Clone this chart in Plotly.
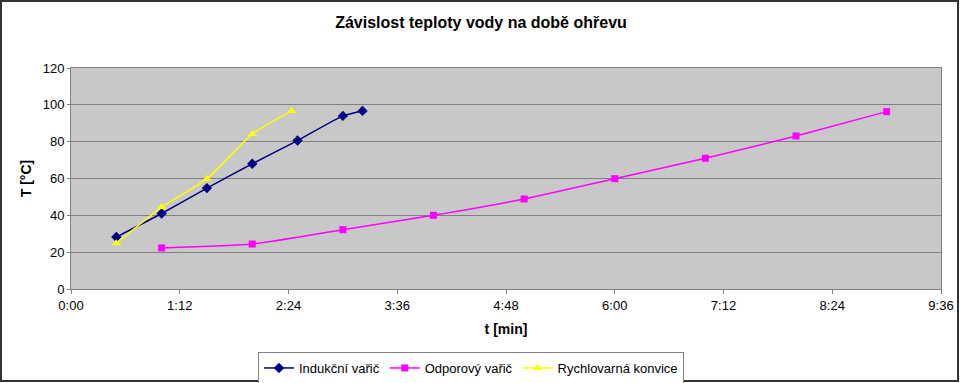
import plotly.graph_objects as go

# time in seconds
ind_t = [30, 60, 90, 120, 150, 180, 193]
ind_T = [28.2, 41, 54.8, 68, 80.6, 94, 96.7]

odp_t = [60, 120, 180, 240, 300, 360, 420, 480, 540]
odp_T = [22.3, 24.4, 32.2, 40, 48.9, 59.9, 71, 83.1, 96.3]

ryc_t = [30, 60, 90, 120, 146]
ryc_T = [24.8, 44.5, 59.8, 84.1, 96.7]

xtick_vals = [0, 72, 144, 216, 288, 360, 432, 504, 576]
xtick_text = ["0:00", "1:12", "2:24", "3:36", "4:48", "6:00", "7:12", "8:24", "9:36"]

FONT = "Liberation Sans, Arial, sans-serif"

fig = go.Figure()
fig.add_trace(go.Scatter(x=ind_t, y=ind_T, name="Indukční vařič", mode="lines+markers",
                         line=dict(color="#000080", width=1.5, shape="spline", smoothing=0.5),
                         marker=dict(symbol="diamond", size=8, color="#000080")))
fig.add_trace(go.Scatter(x=odp_t, y=odp_T, name="Odporový vařič", mode="lines+markers",
                         line=dict(color="#FF00FF", width=1.5, shape="spline", smoothing=0.5),
                         marker=dict(symbol="square", size=7, color="#FF00FF")))
fig.add_trace(go.Scatter(x=ryc_t, y=ryc_T, name="Rychlovarná konvice", mode="lines+markers",
                         line=dict(color="#FFFF00", width=1.5, shape="spline", smoothing=0.5),
                         marker=dict(symbol="triangle-up", size=8, color="#FFFF00")))

fig.update_layout(
    width=960, height=383,
    margin=dict(l=71, r=19, t=68, b=94, autoexpand=False),
    paper_bgcolor="white", plot_bgcolor="#C8C8C8",
    font=dict(family=FONT, size=13, color="black"),
    title=dict(text="<b>Závislost teploty vody na době ohřevu</b>", x=481/960, xanchor="center",
               y=1 - 22/383, yanchor="middle", font=dict(size=16, family=FONT)),
    showlegend=True,
    legend=dict(orientation="h", x=(258 - 71) / 870, xanchor="left", y=(289 - 352) / 221, yanchor="top",
                bordercolor="#808080", borderwidth=1, bgcolor="white",
                font=dict(size=13, family=FONT), tracegroupgap=0),
    xaxis=dict(range=[0, 576], tickvals=xtick_vals, ticktext=xtick_text, showgrid=False,
               zeroline=False, showline=True, linecolor="#808080", mirror=True, linewidth=1,
               ticks="outside", ticklen=4, tickcolor="#808080", automargin=False,
               title=dict(text="<b>t [min]</b>", font=dict(size=14), standoff=12),
               tickfont=dict(size=13)),
    yaxis=dict(range=[0, 120], dtick=20, showgrid=True, gridcolor="#808080", gridwidth=1,
               zeroline=False, showline=True, linecolor="#808080", mirror=True, linewidth=1,
               ticks="outside", ticklen=3, tickcolor="#808080", automargin=False,
               title=dict(text="<b>T [°C]</b>", font=dict(size=14), standoff=7),
               tickfont=dict(size=13)),
)

# outer chart border
fig.add_shape(type="rect", xref="paper", yref="paper",
              x0=(1 - 71) / 870, x1=(958 - 71) / 870,
              y0=(289 - 381) / 221, y1=(289 - 1) / 221,
              line=dict(color="#333333", width=2), layer="above")

fig.write_html("out.html", config={"displayModeBar": False},
               post_script="document.body.style.margin='0';document.body.style.overflow='hidden';")
